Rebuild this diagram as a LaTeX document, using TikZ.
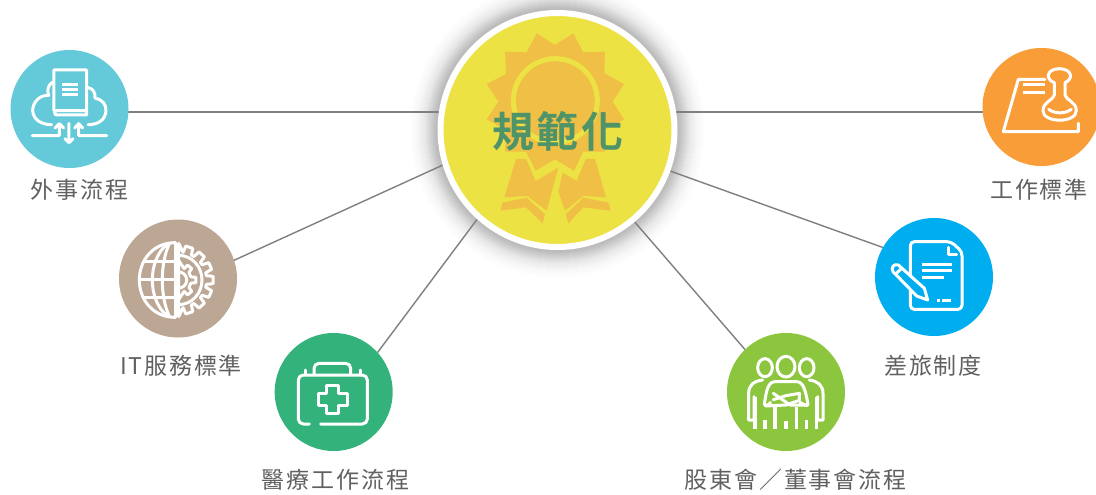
\documentclass[tikz,border=0pt]{standalone}
\usepackage{fontspec}
\usetikzlibrary{backgrounds}
\setmainfont{Noto Sans CJK TC}
\newfontfamily\lblfont[LetterSpace=8]{Noto Sans CJK TC}
\newfontfamily\mainfont[LetterSpace=7,BoldFont={Noto Sans CJK TC Bold}]{Noto Sans CJK TC}
\definecolor{ctr}{HTML}{EDE244}
\definecolor{bdg}{HTML}{F0BF45}
\definecolor{ttl}{HTML}{4F9468}
\definecolor{cteal}{HTML}{64C9D8}
\definecolor{cbrown}{HTML}{BCA795}
\definecolor{cgreen}{HTML}{34B27B}
\definecolor{clime}{HTML}{8CC63F}
\definecolor{cblue}{HTML}{00AEEF}
\definecolor{corange}{HTML}{F99D38}
\definecolor{lbl}{HTML}{606060}
\definecolor{cline}{HTML}{7F7F7F}
\tikzset{
  hub/.style={circle,inner sep=0pt,outer sep=0pt,minimum size=118pt,fill=#1},
  lab/.style={inner sep=0pt,text=lbl,font=\fontsize{23pt}{25pt}\selectfont\lblfont},
  link/.style={draw=cline,line width=1.4pt},
  zoomed/.style 2 args={shift={(#1,#2)},x=0.33333pt,y=-0.33333pt},
  ico/.style={draw=white,line width=3pt,line join=round,line cap=round},
  bar/.style={white,line width=3pt}
}
\begin{document}
\begin{tikzpicture}[x=1pt,y=-1pt]
\useasboundingbox (0,0) rectangle (1096,495);
\begin{pgfonlayer}{background}
  \foreach \r in {120,121,...,148}{\fill[black,opacity=0.002] (557.5,130) circle (\r);}
  \foreach \r in {120,121,...,140}{\fill[black,opacity=0.004] (557.5,130) circle (\r);}
  \foreach \r in {120,121,...,132}{\fill[black,opacity=0.006] (557.5,130) circle (\r);}
\end{pgfonlayer}
% centre
\node[circle,inner sep=0pt,minimum size=234pt,fill=ctr,draw=white,line width=6pt] (main) at (557.5,130) {};
\begin{scope}[zoomed={420}{0}]
  \fill[bdg] (350,100)--(405,135)--(460,100)--(490,157)--(555,155)--(553,220)--(612,252)--(578,305)--(612,358)--(553,390)--(555,455)--(490,455)--(462,512)--(405,478)--(347,512)--(318,455)--(255,455)--(258,390)--(200,358)--(235,305)--(200,252)--(258,222)--(255,155)--(320,157)--cycle;
  \draw[ctr,line width=5pt] (406,302) circle (126);
  \fill[bdg] (288,477)--(318,477)--(347,543)--(415,503)--(380,632)--(322,588)--(253,592)--cycle;
  \fill[bdg] (497,477)--(525,477)--(558,592)--(490,588)--(435,632)--(415,575)--(428,518)--(470,543)--cycle;
  \fill[bdg] (247,608)--(320,593)--(375,643)--(368,670)--(318,622)--(241,632)--cycle;
  \fill[bdg] (490,593)--(567,608)--(571,632)--(490,622)--(445,670)--(437,643)--cycle;
\end{scope}
\node[inner sep=0pt,text=ttl,font=\fontsize{42pt}{44pt}\selectfont\mainfont\bfseries] (title) at (558,131) {規範化};
% hubs
\node[hub=cteal] (a) at (69.5,109) {};
\node[hub=cbrown] (b) at (178,278.5) {};
\node[hub=cgreen] (c) at (333.7,392) {};
\node[hub=clime] (d) at (786,392) {};
\node[hub=cblue] (e) at (934,277) {};
\node[hub=corange] (f) at (1041.5,107) {};
\coordinate (lvl) at (557,112);
% labels
\node[lab] (la) at (79.5,190) {外事流程};
\node[lab] (lb) at (181,366) {IT服務標準};
\node[lab] (lc) at (335.5,480) {醫療工作流程};
\node[lab] (ld) at (795.5,480) {股東會／董事會流程};
\node[lab] (le) at (933,366) {差旅制度};
\node[lab] (lf) at (1039,190) {工作標準};
% connectors
\begin{pgfonlayer}{background}
  \draw[link] (a.-3 |- lvl) -- (main.171.5 |- lvl);
  \draw[link] (main.8.5 |- lvl) -- (f.185 |- lvl);
  \draw[link] (b.18) -- (main.197);
  \draw[link] (c.42) -- (main.228.5);
  \draw[link] (d.134) -- (main.-50.6);
  \draw[link] (e.150) -- (main.-20);
\end{pgfonlayer}
% icon a
\begin{scope}[zoomed={0}{40}]
  \draw[ico] (157,127) .. controls (145,135) and (140,150) .. (146,166) .. controls (115,165) and (98,190) .. (98,212) .. controls (100,240) and (125,254) .. (155,254);
  \draw[ico] (262,142) .. controls (280,145) and (287,160) .. (285,174) .. controls (305,178) and (319,192) .. (318,212) .. controls (316,240) and (295,254) .. (264,254);
  \draw[ico] (162,212) -- (162,90) -- (260,90) -- (260,225) -- (170,225) .. controls (162,225) and (162,212) .. (170,212) -- (260,212);
  \draw[bar] (187,134) -- (235,134) (187,149) -- (235,149) (187,164) -- (235,164);
  \draw[ico] (97,287) -- (178,287) -- (178,252) (165,264) -- (178,251) -- (191,264);
  \draw[ico] (207,250) -- (207,308) (195,296) -- (207,308) -- (219,296);
  \draw[ico] (320,287) -- (236,287) -- (236,252) (224,264) -- (236,251) -- (248,264);
\end{scope}
% icon b
\begin{scope}[zoomed={110}{210}]
  \draw[ico] (195,98) -- (195,322);
  \draw[ico] (195,98) .. controls (130,98) and (88,150) .. (88,210) .. controls (88,270) and (130,322) .. (195,322);
  \draw[ico] (172,102) .. controls (112,150) and (112,270) .. (172,318);
  \draw[ico] (178,101) .. controls (150,160) and (150,260) .. (178,319);
  \draw[ico] (103,153) -- (195,153) (88,208) -- (195,208) (103,263) -- (195,263);
  \begin{scope}[shift={(206,210)}]
    \draw[ico] (-90:110) \foreach \t in {-72,-48,-24,0,24,48,72}{ -- (\t-9:84) -- (\t-6:104) -- (\t+6:104) -- (\t+9:84)} -- (90:110) -- cycle;
    \draw[ico] (-90:74) .. controls (40,-74) and (70,-40) .. (70,0) .. controls (70,40) and (40,74) .. (0,74);
    \draw[ico] (-90:58) \foreach \t in {-50,0,50}{ -- (\t-14:38) -- (\t-9:52) -- (\t+9:52) -- (\t+14:38)} -- (90:58);
    \draw[ico] (0,-24) .. controls (14,-24) and (24,-14) .. (24,0) .. controls (24,14) and (14,24) .. (0,24);
  \end{scope}
\end{scope}
% icon c
\begin{scope}[zoomed={260}{325}]
  \draw[ico,rounded corners=5pt] (148,297) -- (115,297) -- (115,150) -- (322,150) -- (322,297) -- (182,297);
  \draw[ico,rounded corners=5pt] (162,150) -- (162,115) -- (272,115) -- (272,150);
  \draw[ico] (135,135) -- (135,150) (300,135) -- (300,150);
  \draw[ico] (200,182) -- (236,182) -- (236,204) -- (262,204) -- (262,240) -- (236,240) -- (236,266) -- (200,266) -- (200,240) -- (176,240) -- (176,204) -- (200,204) -- cycle;
\end{scope}
% icon d
\begin{scope}[zoomed={680}{325}]
  \draw[ico] (255,128) ellipse (22 and 27);
  \draw[ico] (318,125) ellipse (27 and 31);
  \draw[ico] (380,128) ellipse (22 and 27);
  \draw[ico] (248,165) .. controls (222,168) and (206,180) .. (206,205) -- (206,285) -- (222,285) -- (222,215);
  \draw[ico] (388,165) .. controls (412,168) and (429,180) .. (429,205) -- (429,285) -- (413,285) -- (413,215);
  \draw[ico] (272,232) .. controls (262,244) and (255,245) .. (253,238) .. controls (258,205) and (262,170) .. (285,170) -- (350,170) .. controls (372,170) and (378,205) .. (384,238) .. controls (382,245) and (375,240) .. (360,232);
  \draw[ico] (280,205) -- (330,240) -- (382,240);
  \draw[ico] (280,224) -- (318,212) -- (358,205) -- (358,226) -- (318,240) -- (256,243);
  \draw[bar,line width=3.6pt] (225,215) -- (225,311) (255,284) -- (255,311) (285,246) -- (285,311) (318,288) -- (318,311) (350,246) -- (350,311) (380,284) -- (380,311) (410,215) -- (410,311);
\end{scope}
% icon e
\begin{scope}[zoomed={865}{210}]
  \draw[ico,rounded corners=4pt] (258,95) -- (136,95) -- (136,298) -- (291,298) -- (291,125) -- cycle;
  \draw[ico] (250,112) -- (250,133) -- (275,133);
  \draw[bar] (170,163) -- (260,163) (170,182) -- (260,182) (170,202) -- (238,202);
  \draw[bar] (216,270) -- (226,270) (232,270) -- (257,270);
  \draw[ico,fill=cblue] (100,165) -- (178,235) -- (188,270) -- (155,258) -- (84,185) .. controls (76,172) and (88,160) .. (100,165) -- cycle;
  \draw[ico] (92,192) -- (110,175);
\end{scope}
% icon f
\begin{scope}[zoomed={970}{40}]
  \draw[ico] (225,118) -- (145,118) -- (100,275) -- (325,275) -- (325,250);
  \draw[bar] (160,135) -- (225,135) (160,158) -- (225,158);
  \draw[ico] (253,128) .. controls (226,118) and (228,87) .. (268,86) .. controls (308,87) and (310,118) .. (285,128) -- (285,165) .. controls (287,180) and (319,185) .. (319,212) .. controls (319,250) and (219,250) .. (219,212) .. controls (219,185) and (251,180) .. (253,165) -- cycle;
  \draw[ico] (236,208) .. controls (255,222) and (285,222) .. (304,208);
\end{scope}
\end{tikzpicture}
\end{document}
